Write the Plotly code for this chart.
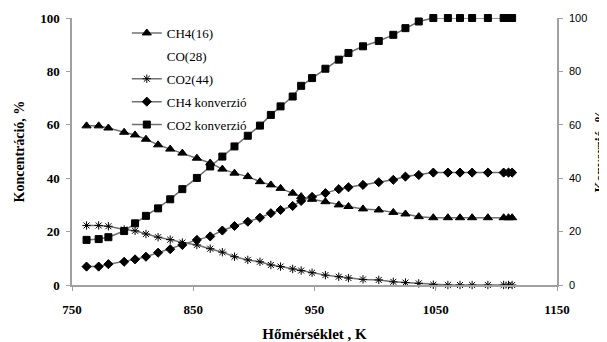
import plotly.graph_objects as go

temps = [762, 772, 780, 793, 802, 811, 821, 831, 841, 853, 864, 874, 884, 895, 905, 914, 922, 932,
         939, 948, 959, 970, 978, 990, 1003, 1015, 1025, 1036, 1048, 1060, 1070, 1080, 1093, 1106, 1110, 1113]

ch4 = [59.6, 59.6, 58.8, 57.2, 56.2, 54.6, 52.5, 50.9, 49.4, 47.5, 45.7, 43.4, 41.9, 40.6, 38.7, 37.5, 36.2, 34.4,
       33.1, 32.1, 31.2, 30.0, 29.4, 28.5, 28.1, 27.2, 26.6, 25.6, 25.2, 25.2, 25.2, 25.2, 25.2, 25.2, 25.2, 25.2]

co2 = [22.3, 22.3, 22.0, 20.8, 20.3, 19.1, 17.9, 17.0, 15.9, 15.0, 13.6, 12.3, 10.6, 9.4, 8.7, 7.5, 6.9, 6.0,
       5.4, 4.6, 3.7, 3.1, 2.6, 2.1, 1.9, 1.2, 0.9, 0.6, 0.1, 0, 0, 0, 0, 0, 0, 0]

ch4_konv = [6.9, 6.9, 7.8, 8.7, 9.6, 10.6, 12.1, 13.4, 15.0, 16.9, 18.2, 20.4, 22.1, 23.7, 25.2, 26.9, 28.1, 29.6,
            31.5, 33.0, 34.4, 35.9, 36.6, 37.5, 38.5, 39.4, 40.6, 41.2, 42.1, 42.1, 42.1, 42.1, 42.1, 42.1, 42.1, 42.1]

co2_konv = [16.9, 17.2, 17.9, 20.2, 23.1, 25.9, 28.7, 32.1, 35.9, 40.1, 44.4, 48.1, 51.9, 55.9, 59.7, 63.7, 66.9, 70.6,
            74.6, 77.5, 81.0, 84.4, 86.9, 89.4, 91.4, 93.7, 96.2, 98.7, 100, 100, 100, 100, 100, 100, 100, 100]

x_ticks = [750, 850, 950, 1050, 1150]
y_ticks = [0, 20, 40, 60, 80, 100]

SERIF = "Liberation Serif"
SANS = "Liberation Sans"
LINE = "#707070"

fig = go.Figure()

def add(name, y, symbol, size, yaxis="y", group=None):
    fig.add_trace(go.Scatter(
        x=temps, y=y, name=name, mode="lines+markers", yaxis=yaxis,
        line=dict(color=LINE, width=1.5),
        marker=dict(symbol=symbol, size=size, color="black",
                    line=dict(color="black", width=1)),
        cliponaxis=False, legendgroup=group or name,
    ))

add("CH4(16)", ch4, "triangle-up", 8)
fig.add_trace(go.Scatter(
    x=[None], y=[None], name="CO(28)", mode="lines",
    line=dict(color="rgba(0,0,0,0)", width=1), legendgroup="CO(28)",
))
add("CO2(44)", co2, "asterisk-open", 7)
add("CH4 konverzió", ch4_konv, "diamond", 7, yaxis="y2")
add("CO2 konverzió", co2_konv, "square", 7, yaxis="y2")

axis_line = "#a0a0a0"

fig.update_layout(
    width=599, height=334,
    margin=dict(l=64, r=50, t=10, b=57),
    paper_bgcolor="white", plot_bgcolor="white",
    font=dict(family=SERIF, color="black"),
    showlegend=True,
    legend=dict(
        x=0.113, y=1.0, xanchor="left", yanchor="top",
        font=dict(family=SERIF, size=13, color="black"),
        bgcolor="rgba(0,0,0,0)", traceorder="grouped", tracegroupgap=3,
        itemwidth=30,
    ),
    xaxis=dict(
        range=[750, 1150], tickvals=x_ticks, ticktext=[str(v) for v in x_ticks],
        showgrid=False, zeroline=False, showline=True, linecolor=axis_line, linewidth=1.5,
        ticks="outside", ticklen=4, tickcolor=axis_line, ticklabelstandoff=8, automargin=False,
        tickfont=dict(family=SERIF, size=13, color="black", weight="bold"),
        title=dict(text="<b>Hőmérséklet , K</b>", font=dict(family=SERIF, size=15), standoff=12),
    ),
    yaxis=dict(
        range=[0, 100], tickvals=y_ticks, ticktext=[str(v) for v in y_ticks],
        showgrid=False, zeroline=False, showline=True, linecolor=axis_line, linewidth=1.5,
        ticks="outside", ticklen=4, tickcolor=axis_line, ticklabelstandoff=4, automargin=False,
        tickfont=dict(family=SERIF, size=13, color="black", weight="bold"),
    ),
    yaxis2=dict(
        range=[0, 100], tickvals=y_ticks, ticktext=[str(v) for v in y_ticks],
        overlaying="y", side="right", anchor="x",
        showgrid=False, zeroline=False, showline=True, linecolor=axis_line, linewidth=1.5,
        ticks="outside", ticklen=4, tickcolor=axis_line, ticklabelstandoff=4, automargin=False,
        tickfont=dict(family=SANS, size=11, color="black"),
    ),
    annotations=[
        dict(text="<b>Koncentráció, %</b>", xref="paper", yref="paper", x=0, y=0.5,
             xanchor="center", yanchor="middle", xshift=-53, textangle=-90, showarrow=False,
             font=dict(family=SERIF, size=14, color="black")),
        dict(text="<b>Konverzió, %</b>", xref="paper", yref="paper", x=1, y=0.5,
             xanchor="center", yanchor="middle", xshift=43, textangle=-90, showarrow=False,
             font=dict(family=SERIF, size=14, color="black")),
    ],
)

fig.write_html("out.html")
